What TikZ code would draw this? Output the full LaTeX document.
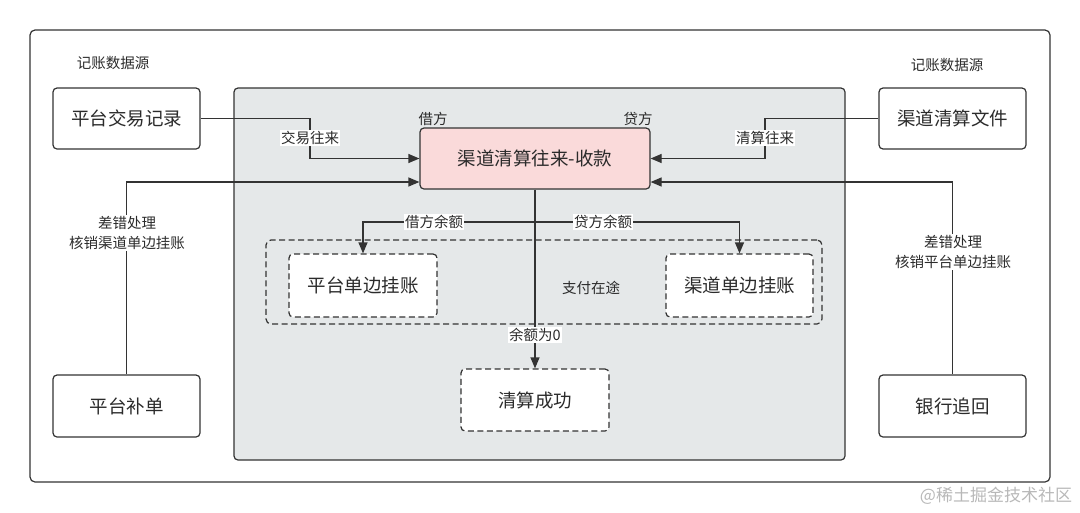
\documentclass[tikz,border=0pt]{standalone}
\usepackage{fontspec}
\setmainfont{Noto Sans CJK SC}
\usetikzlibrary{arrows.meta,calc}
\definecolor{ln}{HTML}{333333}
\definecolor{txt}{HTML}{2B2B2B}
\definecolor{grayfill}{HTML}{E5E8E9}
\definecolor{pinkfill}{HTML}{FADADA}
\definecolor{wm}{HTML}{B8B8B8}
\begin{document}
\begin{tikzpicture}[x=1pt,y=-1pt,
  line width=1.2pt, draw=ln, text=txt,
  box/.style={draw=ln, rounded corners=4pt, fill=white, inner sep=0pt,
    minimum width=147pt, minimum height=61pt, font=\fontsize{18.5}{22}\selectfont},
  dbox/.style={box, dashed, dash pattern=on 6pt off 3.5pt},
  lab/.style={inner sep=1pt, font=\fontsize{14.5}{20}\selectfont, text=txt},
  wlab/.style={lab, fill=white},
  arr/.style={draw=ln, -{Triangle[length=11pt,width=9pt]}},
  conn/.style={draw=ln}]
\useasboundingbox (0,0) rectangle (1080,512);
% frames
\node[draw=ln, rounded corners=5pt, minimum width=1020pt, minimum height=452pt, inner sep=0pt] (frame) at (540,256) {};
\node[draw=ln, fill=grayfill, rounded corners=4pt, minimum width=611pt, minimum height=372pt, inner sep=0pt] (core) at (539.5,274) {};
\node[draw=ln, dashed, dash pattern=on 6pt off 3.5pt, rounded corners=5pt, minimum width=556pt, minimum height=84pt, inner sep=0pt] (grp) at (544,282) {};
% source labels
\node[lab] (src1) at (113,63) {记账数据源};
\node[lab] (src2) at (947,65) {记账数据源};
% boxes
\node[box] (rec) at (126.5,118.5) {平台交易记录};
\node[box] (file) at (952.5,118.5) {渠道清算文件};
\node[box, minimum height=62pt] (bu) at (126.5,406) {平台补单};
\node[box, minimum height=62pt] (bank) at (952.5,406) {银行追回};
\node[box, fill=pinkfill, minimum width=230pt] (pink) at (535,158.5) {渠道清算往来-收款};
\node[dbox, minimum width=148pt, minimum height=63pt] (pl) at (363,285.5) {平台单边挂账};
\node[dbox, minimum height=63pt] (qd) at (739.5,285.5) {渠道单边挂账};
\node[dbox, minimum width=148pt, minimum height=62pt] (succ) at (535,400) {清算成功};
\node[lab] (jie) at (433,119) {借方};
\node[lab] (dai) at (638,119) {贷方};
\node[lab] (zf) at (591,288) {支付在途};
% coordinates
\coordinate (j1) at (310,138);
\coordinate (j2) at (765,138);
\coordinate (split) at (535,222);
% connectors
\draw[arr] (rec.east) -| (j1) |- (pink.west);
\draw[arr] (file.west) -| (j2) |- (pink.east);
\draw[arr] (bu.north) |- ([yshift=-23.5pt]pink.west);
\draw[arr] (bank.north) |- ([yshift=-23.5pt]pink.east);
\draw[arr] (pink.south) -- (succ.north);
\draw[arr] (split) -| (pl.north);
\draw[arr] (split) -| (qd.north);
% connector labels
\node[wlab] (l1) at (j1) {交易往来};
\node[wlab] (l2) at (j2) {清算往来};
\node[wlab] (l3) at (434,222) {借方余额};
\node[wlab] (l4) at (603,222) {贷方余额};
\node[wlab] (l5) at (535,335) {余额为0};
\node[wlab, align=center] (l6) at (127,233) {差错处理\\核销渠道单边挂账};
\node[wlab, align=center] (l7) at (953,252) {差错处理\\核销平台单边挂账};
% watermark
\node[font=\fontsize{17}{20}\selectfont, text=wm, anchor=east] (wmk) at (1076,496) {@稀土掘金技术社区};
\end{tikzpicture}
\end{document}
